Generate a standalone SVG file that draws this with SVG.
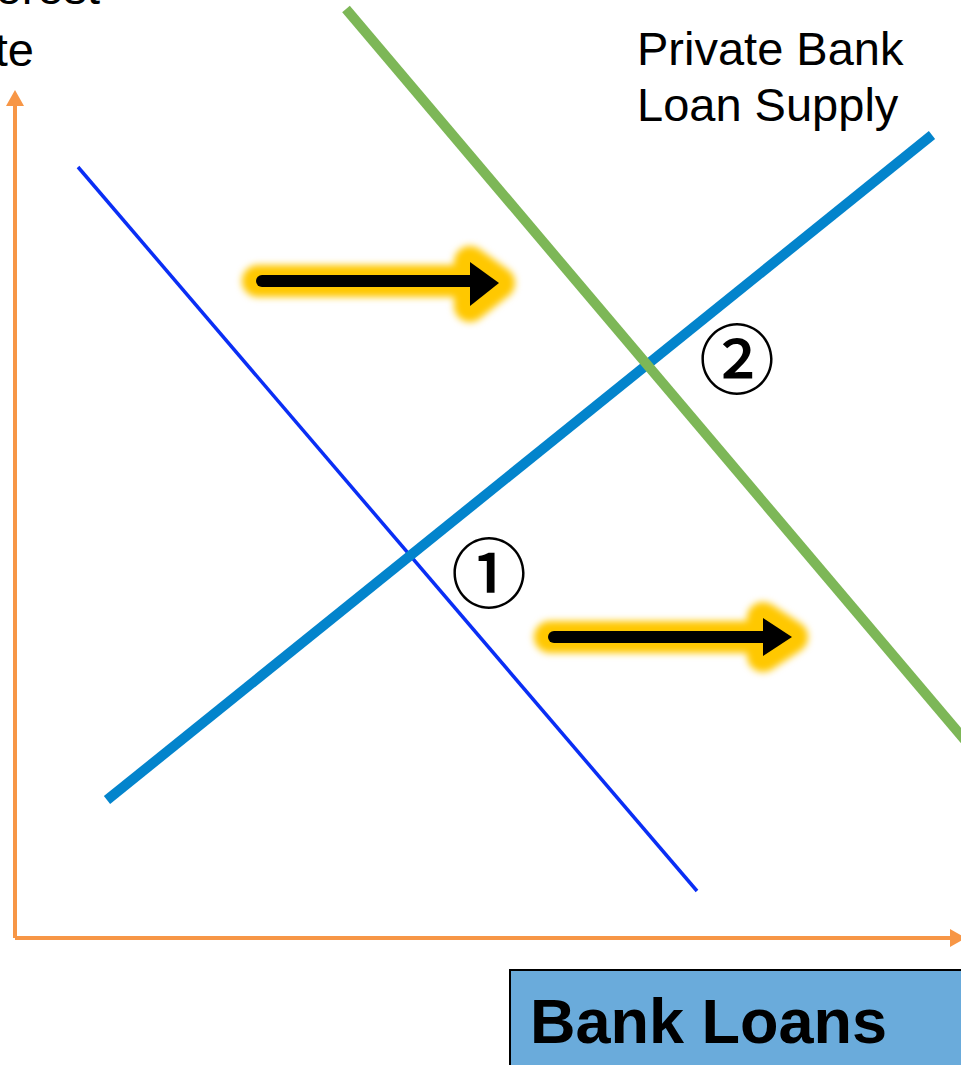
<svg xmlns="http://www.w3.org/2000/svg" width="961" height="1065" viewBox="0 0 961 1065">
<style>
.lbl{font-family:"Liberation Sans",Arial,sans-serif;font-size:47px;fill:#000}
.circ{font-family:"Noto Sans CJK JP","DejaVu Sans",sans-serif;font-size:76px;font-weight:500;fill:#000}
.axis{stroke:#F79646;stroke-width:4;fill:none}
.glow{stroke:#FFC800;stroke-width:32;stroke-linejoin:round;stroke-linecap:round;fill:#FFC800;filter:url(#blur)}
.shaft{stroke:#000;stroke-width:12;stroke-linecap:round}
</style>
<defs>
<filter id="blur" x="-20%" y="-100%" width="140%" height="300%"><feGaussianBlur stdDeviation="3.5"/></filter>
</defs>
<rect width="961" height="1065" fill="#fff"/>
<g id="axis-label">
<text class="lbl" x="100" y="4" text-anchor="end">Interest</text>
<text class="lbl" x="34" y="66" text-anchor="end">Rate</text>
</g>
<g id="axes">
<line class="axis" x1="15" y1="938" x2="15" y2="105"/>
<path d="M15,90 L24,106 L6,106 Z" fill="#F79646"/>
<line class="axis" x1="15" y1="938" x2="950" y2="938"/>
<path d="M966,938 L950,929 L950,947 Z" fill="#F79646"/>
</g>
<g id="connectors">
<line x1="78" y1="167" x2="697" y2="891" stroke="#0A2EF5" stroke-width="3.5"/>
<line x1="107" y1="800" x2="932" y2="135" stroke="#0384CC" stroke-width="10"/>
<line x1="346" y1="9" x2="975" y2="752" stroke="#7DB757" stroke-width="10"/>
</g>
<g id="supply-label">
<text class="lbl" x="637" y="65">Private Bank</text>
<text class="lbl" x="637" y="121">Loan Supply</text>
</g>
<g id="shift-arrow-1">
<path class="glow" d="M258,281 L470,281 M470,262 L499,283 L470,306 Z"/>
<line class="shaft" x1="262" y1="281" x2="475" y2="281"/>
<path d="M470,262 L499,283 L470,306 Z" fill="#000"/>
</g>
<g id="shift-arrow-2">
<path class="glow" d="M550,637 L763,637 M763,618 L792,637 L763,656 Z"/>
<line class="shaft" x1="554" y1="637" x2="768" y2="637"/>
<path d="M763,618 L792,637 L763,656 Z" fill="#000"/>
</g>
<g id="eq-1">
<text class="circ" x="489" y="569" text-anchor="middle" dominant-baseline="central">①</text>
</g>
<g id="eq-2">
<text class="circ" x="737" y="355" text-anchor="middle" dominant-baseline="central">②</text>
</g>
<g id="x-label">
<rect x="510" y="970" width="470" height="110" fill="#6AABDB" stroke="#000" stroke-width="2"/>
<text x="530" y="1043" font-family="Liberation Sans,Arial,sans-serif" font-weight="bold" font-size="63" fill="#000">Bank Loans</text>
</g>
</svg>
